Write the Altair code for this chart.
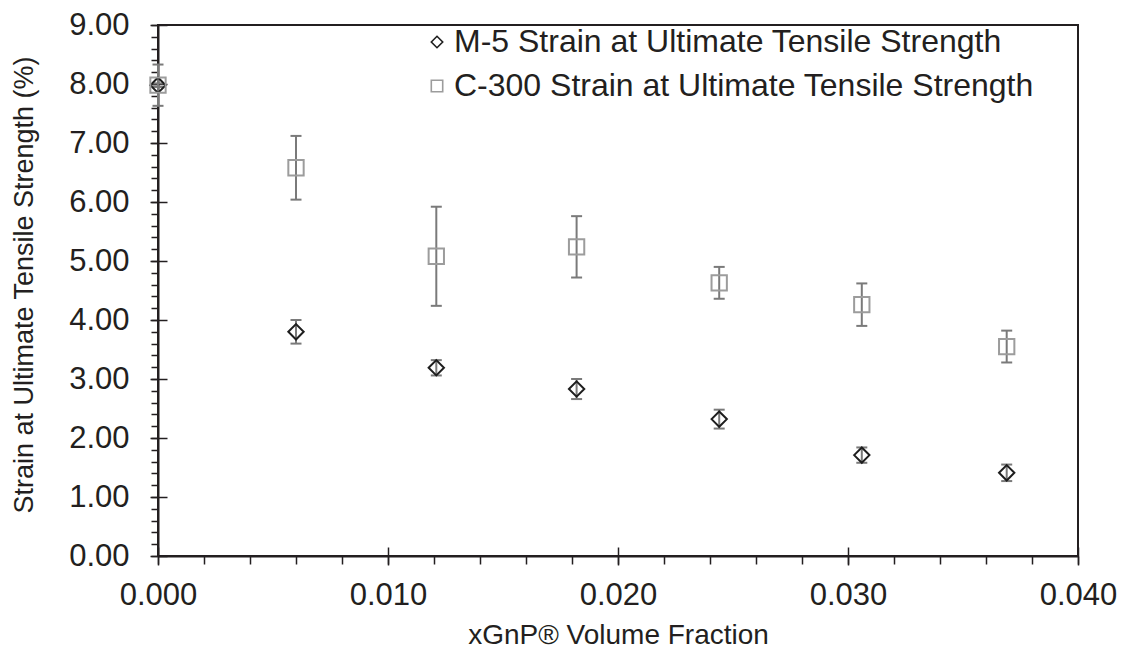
import altair as alt
import pandas as pd

# ---- data ----
x_frac = [0.0, 0.0060, 0.0121, 0.0182, 0.0244, 0.0306, 0.0369]
m5_strain = [7.98, 3.80, 3.19, 2.83, 2.32, 1.71, 1.41]
m5_err = [0.03, 0.20, 0.13, 0.17, 0.16, 0.13, 0.14]
c300_strain = [7.98, 6.58, 5.08, 5.24, 4.63, 4.26, 3.55]
c300_err = [0.35, 0.54, 0.84, 0.52, 0.27, 0.36, 0.27]
series_names = ["M-5 Strain at Ultimate Tensile Strength",
                "C-300 Strain at Ultimate Tensile Strength"]

# ---- axis tick positions ----
x_major = [0.0, 0.01, 0.02, 0.03, 0.04]
x_minor = [round(i * 0.002, 3) for i in range(21)]
y_major = [0, 1, 2, 3, 4, 5, 6, 7, 8, 9]
y_minor = [round(i * 0.2, 1) for i in range(46)]

rows = []
for xv, v, e in zip(x_frac, m5_strain, m5_err):
    rows.append({"x": xv, "v": v, "lo": v - e, "hi": v + e, "series": series_names[0]})
for xv, v, e in zip(x_frac, c300_strain, c300_err):
    rows.append({"x": xv, "v": v, "lo": v - e, "hi": v + e, "series": series_names[1]})
df = pd.DataFrame(rows)

W, H = 920, 531
INK = "#231f20"
ERR = "#7a7a7a"
FONT = "Liberation Sans"

xs = alt.Scale(domain=[0, 0.04], nice=False, zero=False)
ys = alt.Scale(domain=[0, 9], nice=False, zero=False)

base = alt.Chart(df)

leg = alt.Legend(title=None, orient="none", legendX=263, legendY=1,
                 labelFontSize=32, labelColor=INK, labelFont=FONT,
                 symbolSize=130, symbolStrokeWidth=1.6, symbolFillColor="transparent",
                 rowPadding=12, labelOffset=1, padding=0, labelLimit=800)

rules = base.mark_rule(color=ERR, strokeWidth=2).encode(
    x=alt.X("x:Q", scale=xs,
            axis=alt.Axis(values=x_minor, tickSize=8, tickWidth=1.5, tickColor=INK,
                          labels=False, domain=False, grid=False, title=None, orient="bottom")),
    y=alt.Y("lo:Q", scale=ys,
            axis=alt.Axis(values=y_minor, tickSize=7, tickWidth=1.5, tickColor=INK,
                          labels=False, domain=False, grid=False, title=None, orient="left")),
    y2="hi:Q",
)

caps = base.transform_fold(["lo", "hi"], as_=["end", "ev"]).mark_tick(
    orient="horizontal", size=11, thickness=2, color=ERR, opacity=1
).encode(
    x=alt.X("x:Q", scale=xs,
            axis=alt.Axis(values=x_major, tickSize=9, tickWidth=1.5, tickColor=INK,
                          labels=False, domain=False, grid=False, title=None,
                          orient="top", offset=-H)),
    y=alt.Y("ev:Q", type="quantitative", scale=ys,
            axis=alt.Axis(values=y_major, tickSize=9, tickWidth=1.5, tickColor=INK,
                          labels=False, domain=False, grid=False, title=None,
                          orient="right", offset=-W)),
)

points = base.mark_point(filled=False, size=235, strokeWidth=2, opacity=1).encode(
    x=alt.X("x:Q", scale=xs,
            axis=alt.Axis(values=x_major, format=".3f", tickSize=9, tickWidth=1.5,
                          tickColor=INK, domainColor=INK, domainWidth=2, grid=False,
                          labelFontSize=31, labelColor=INK, labelFont=FONT, labelPadding=15,
                          labelFlush=False, orient="bottom",
                          title="xGnP® Volume Fraction", titleFontSize=28,
                          titleFontWeight="normal", titleColor=INK, titleFont=FONT,
                          titleX=W / 2, titleY=79, titleBaseline="middle", titleAlign="center")),
    y=alt.Y("v:Q", scale=ys,
            axis=alt.Axis(values=y_major, format=".2f", tickSize=8, tickWidth=1.5,
                          tickColor=INK, domainColor=INK, domainWidth=2, grid=False,
                          labelFontSize=31, labelColor=INK, labelFont=FONT, labelPadding=21,
                          labelFlush=False, orient="left",
                          title="Strain at Ultimate Tensile Strength (%)", titleFontSize=27,
                          titleFontWeight="normal", titleColor=INK, titleFont=FONT,
                          titleX=-134, titleY=H / 2 - 6, titleAngle=-90,
                          titleBaseline="middle", titleAlign="center")),
    shape=alt.Shape("series:N", scale=alt.Scale(domain=series_names, range=["diamond", "square"]),
                    legend=leg),
    stroke=alt.Stroke("series:N", scale=alt.Scale(domain=series_names, range=["#1e1e1e", "#9c9c9c"]),
                      legend=leg),
)

chart = alt.layer(rules, caps, points).resolve_axis(
    x="independent", y="independent"
).properties(
    width=W, height=H,
    autosize=alt.AutoSizeParams(type="none"),
    padding={"left": 150, "top": 17, "right": 40, "bottom": 95},
    background="white",
).configure(
    font=FONT
).configure_view(
    stroke=INK, strokeWidth=2
)

chart.save("out.html", embed_options={"renderer": "svg", "actions": False})
